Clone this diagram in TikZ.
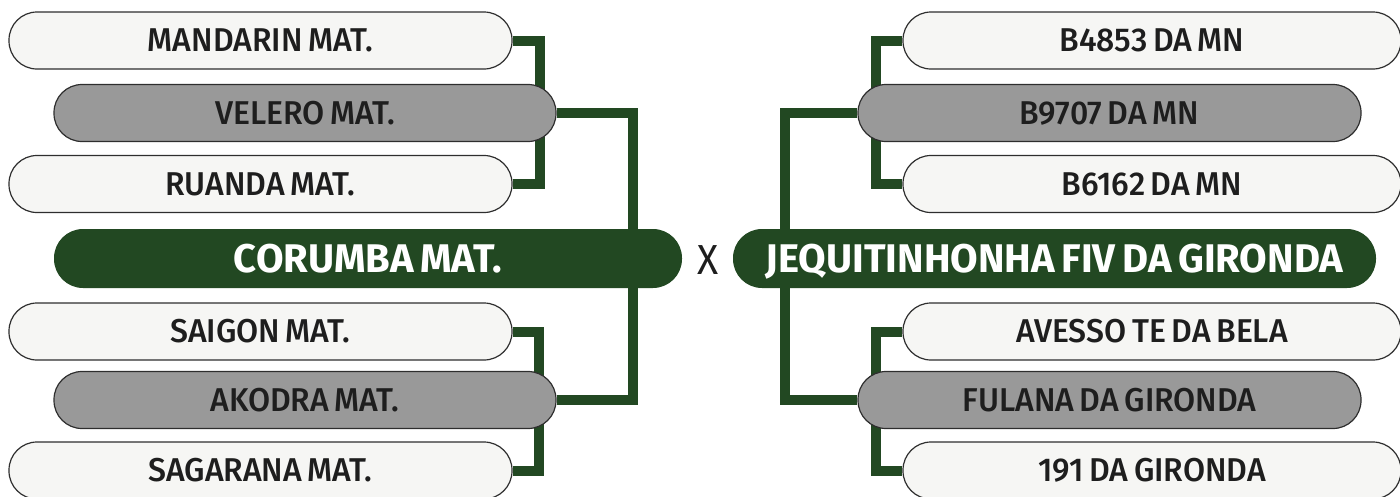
\documentclass[tikz,border=0pt]{standalone}
\usepackage{fontspec}
\setmainfont{Fira Sans}[UprightFont={* Medium}, BoldFont={* Bold}, FakeStretch=0.97, WordSpace=0.7, BoldFeatures={FakeStretch=1.0}]
\newfontfamily\vsfont{Fira Sans}[FakeStretch=0.93]
\pgfdeclarelayer{background}
\pgfsetlayers{background,main}
\definecolor{greenc}{HTML}{224822}
\definecolor{lightc}{HTML}{F6F6F4}
\definecolor{greyc}{HTML}{999999}
\definecolor{bordc}{HTML}{2E2E2E}
\definecolor{txtc}{HTML}{1E1E1E}
\begin{document}
\begin{tikzpicture}[x=1pt,y=-1pt]
\useasboundingbox (0,0) rectangle (1400,496);
\tikzset{
  pill/.style={draw=bordc, line width=1.2pt, rounded corners=28pt, minimum height=57pt,
    inner sep=0pt, text=txtc, font=\fontsize{33}{33}\selectfont, text height=22pt, text depth=0pt},
  light/.style={pill, fill=lightc, minimum width=503pt},
  grey/.style={pill, fill=greyc, minimum width=502pt},
  final/.style={pill, draw=none, fill=greenc, text=white, minimum height=59pt, rounded corners=29pt,
    font=\fontsize{40}{40}\bfseries\selectfont, text height=27pt},
  conn/.style={draw=greenc, line width=10pt, line join=miter},
  vs/.style={text=txtc, font=\fontsize{42}{42}\vsfont, inner sep=0pt}
}
% left
\node[light] (mandarin) at (260.5,40.5) {MANDARIN MAT.};
\node[grey]  (velero)   at (305,113) {VELERO MAT.};
\node[light] (ruanda)   at (260.5,184) {RUANDA MAT.};
\node[final, minimum width=628pt] (corumba) at (368,258.5) {CORUMBA MAT.};
\node[light] (saigon)   at (260.5,331.5) {SAIGON MAT.};
\node[grey]  (akodra)   at (305,400) {AKODRA MAT.};
\node[light] (sagarana) at (260.5,470.5) {SAGARANA MAT.};
% vs
\node[vs] (x) at (708,260) {X};
% right
\node[light, minimum width=498pt] (b4853) at (1152,40.5) {B4853 DA MN};
\node[grey, minimum width=503pt]  (b9707) at (1109.5,113) {B9707 DA MN};
\node[light, minimum width=498pt] (b6162) at (1152,184) {B6162 DA MN};
\node[final, minimum width=643pt] (jeq) at (1054.5,258.5) {JEQUITINHONHA FIV DA GIRONDA};
\node[light, minimum width=498pt] (avesso) at (1152,331.5) {AVESSO TE DA BELA};
\node[grey, minimum width=503pt]  (fulana) at (1109.5,400) {FULANA DA GIRONDA};
\node[light, minimum width=498pt] (g191) at (1152,470.5) {191 DA GIRONDA};
% connectors
\begin{pgfonlayer}{background}
\draw[conn] (mandarin.east) -- ++(27,0) |- (ruanda.east);
\draw[conn] (velero.east) -- ++(76,0) |- (akodra.east);
\draw[conn] (saigon.east) -- ++(26,0) |- (sagarana.east);
\draw[conn] (b4853.west) -- ++(-26,0) |- (b6162.west);
\draw[conn] (b9707.west) -- ++(-72,0) |- (fulana.west);
\draw[conn] (avesso.west) -- ++(-26,0) |- (g191.west);
\end{pgfonlayer}
\end{tikzpicture}
\end{document}
